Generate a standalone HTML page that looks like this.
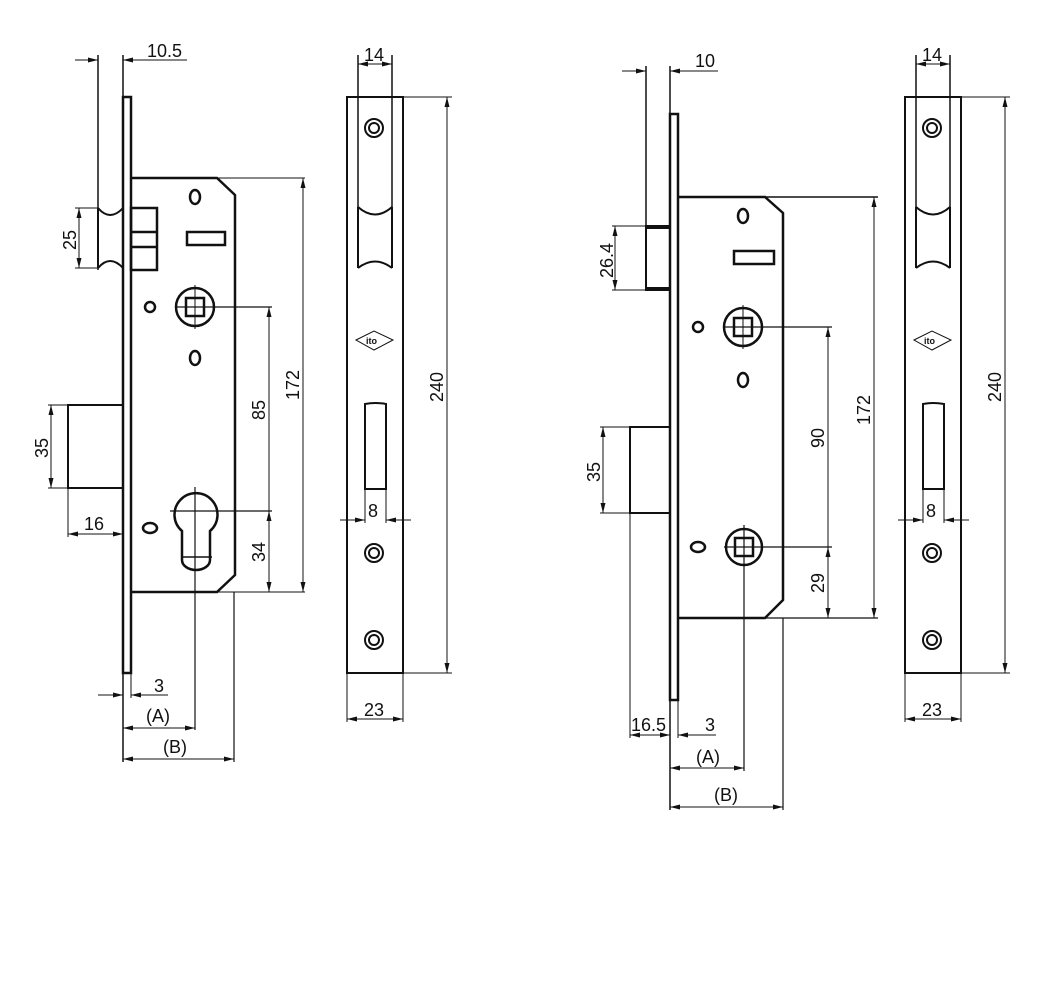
<!DOCTYPE html>
<html><head><meta charset="utf-8"><style>
html,body{margin:0;padding:0;background:#fff;}
svg{display:block;}
text{font-family:"Liberation Sans",sans-serif;font-size:18px;fill:#111;}
</style></head><body>
<svg width="1056" height="990" viewBox="0 0 1056 990" xmlns="http://www.w3.org/2000/svg">
<defs>
<marker id="a" viewBox="0 0 10 6" refX="10" refY="3" markerWidth="10" markerHeight="6" orient="auto-start-reverse" markerUnits="userSpaceOnUse"><path d="M0,0.5 L10,3 L0,5.5 Z" fill="#111"/></marker>
<g id="fp">
  <rect x="347" y="97" width="56" height="576" fill="none" stroke="#111" stroke-width="2"/>
  <line x1="358" y1="55" x2="358" y2="268" stroke="#111" stroke-width="1.5"/>
  <line x1="392" y1="55" x2="392" y2="268" stroke="#111" stroke-width="1.5"/>
  <path d="M358,207 Q375,222 392,207 M358,268 Q375,255 392,268" fill="none" stroke="#111" stroke-width="2"/>
  <line x1="358" y1="207" x2="358" y2="268" stroke="#111" stroke-width="2"/>
  <line x1="392" y1="207" x2="392" y2="268" stroke="#111" stroke-width="2"/>
  <g fill="none" stroke="#111" stroke-width="2">
    <circle cx="374" cy="128" r="9"/><circle cx="374" cy="128" r="5"/>
    <circle cx="374" cy="553" r="9"/><circle cx="374" cy="553" r="5"/>
    <circle cx="374" cy="640" r="9"/><circle cx="374" cy="640" r="5"/>
  </g>
  <path d="M356,340 L374,331 L393,340 L374,350 Z" fill="none" stroke="#111" stroke-width="1"/>
  <text x="366" y="344" style="font-size:9px;font-weight:bold">ito</text>
  <path d="M365,404 Q375,402 386,404 L386,489 L365,489 Z" fill="none" stroke="#111" stroke-width="2"/>
  <line x1="365" y1="489" x2="365" y2="523" stroke="#111" stroke-width="1"/>
  <line x1="386" y1="489" x2="386" y2="523" stroke="#111" stroke-width="1"/>
  <line x1="340" y1="520" x2="365" y2="520" stroke="#111" stroke-width="1" marker-end="url(#a)"/>
  <line x1="411" y1="520" x2="386" y2="520" stroke="#111" stroke-width="1" marker-end="url(#a)"/>
  <text x="368" y="517">8</text>
  <line x1="362" y1="64" x2="358" y2="64" stroke="#111" stroke-width="1"/>
  <line x1="358" y1="64" x2="392" y2="64" stroke="#111" stroke-width="1" marker-start="url(#a)" marker-end="url(#a)"/>
  <text x="364" y="61">14</text>
  <line x1="403" y1="97" x2="452" y2="97" stroke="#111" stroke-width="1"/>
  <line x1="403" y1="673" x2="452" y2="673" stroke="#111" stroke-width="1"/>
  <line x1="447" y1="97" x2="447" y2="673" stroke="#111" stroke-width="1" marker-start="url(#a)" marker-end="url(#a)"/>
  <text transform="translate(443,402) rotate(-90)">240</text>
  <line x1="347" y1="673" x2="347" y2="722" stroke="#111" stroke-width="1"/>
  <line x1="403" y1="673" x2="403" y2="722" stroke="#111" stroke-width="1"/>
  <line x1="347" y1="719" x2="403" y2="719" stroke="#111" stroke-width="1" marker-start="url(#a)" marker-end="url(#a)"/>
  <text x="364" y="716">23</text>
</g>
</defs>

<g stroke="#111" fill="none">
<!-- LEFT LOCK -->
<line x1="75" y1="60" x2="98" y2="60" stroke-width="1" marker-end="url(#a)"/>
<line x1="187" y1="60" x2="123" y2="60" stroke-width="1" marker-end="url(#a)"/>
<line x1="98" y1="55" x2="98" y2="270" stroke-width="1.5"/>
<line x1="123" y1="55" x2="123" y2="762" stroke-width="1.5"/>
<rect x="123" y="97" width="8" height="576" stroke-width="2.5"/>
<path d="M98,208 Q110,222 123,208 M98,268 Q110,254 123,268" stroke-width="2"/>
<line x1="98" y1="208" x2="98" y2="268" stroke-width="2"/>
<line x1="75" y1="208" x2="98" y2="208" stroke-width="1"/>
<line x1="75" y1="268" x2="98" y2="268" stroke-width="1"/>
<line x1="79" y1="208" x2="79" y2="268" stroke-width="1" marker-start="url(#a)" marker-end="url(#a)"/>
<path d="M131,178 L217,178 L235,195 L235,575 L217,592 L131,592" stroke-width="2.5"/>
<line x1="217" y1="178" x2="305" y2="178" stroke-width="1"/>
<line x1="217" y1="592" x2="305" y2="592" stroke-width="1"/>
<rect x="131" y="208" width="26" height="62" stroke-width="2.5"/>
<line x1="131" y1="232" x2="157" y2="232" stroke-width="2.5"/>
<line x1="131" y1="247" x2="157" y2="247" stroke-width="2.5"/>
<ellipse cx="195" cy="197" rx="5" ry="7" stroke-width="2.5"/>
<rect x="187" y="232" width="38" height="13" stroke-width="2.5"/>
<circle cx="195" cy="307" r="19" stroke-width="2.5"/>
<rect x="186" y="298" width="18" height="18" stroke-width="2.5"/>
<line x1="175" y1="307" x2="272" y2="307" stroke-width="1.2"/>
<line x1="195" y1="285" x2="195" y2="329" stroke-width="1"/>
<circle cx="150" cy="307" r="5" stroke-width="2.5"/>
<ellipse cx="195" cy="358" rx="5" ry="7" stroke-width="2.5"/>
<line x1="269" y1="511" x2="269" y2="307" stroke-width="1" marker-end="url(#a)"/>
<line x1="269" y1="511" x2="269" y2="592" stroke-width="1" marker-start="url(#a)" marker-end="url(#a)"/>
<line x1="303" y1="178" x2="303" y2="592" stroke-width="1" marker-start="url(#a)" marker-end="url(#a)"/>
<path d="M182,531 A21.5,21.5 0 1 1 210,531 L210,560 A14,10 0 0 1 182,560 Z" stroke-width="2.5"/>
<line x1="182" y1="557" x2="212" y2="557" stroke-width="1.5"/>
<line x1="170" y1="511" x2="272" y2="511" stroke-width="1.2"/>
<line x1="195" y1="487" x2="195" y2="730" stroke-width="1.2"/>
<ellipse cx="150" cy="528" rx="7" ry="5" stroke-width="2.5"/>
<rect x="68" y="405" width="55" height="83" stroke-width="2"/>
<line x1="48" y1="405" x2="68" y2="405" stroke-width="1"/>
<line x1="48" y1="488" x2="68" y2="488" stroke-width="1"/>
<line x1="51" y1="405" x2="51" y2="488" stroke-width="1" marker-start="url(#a)" marker-end="url(#a)"/>
<line x1="68" y1="488" x2="68" y2="537" stroke-width="1"/>
<line x1="68" y1="534" x2="123" y2="534" stroke-width="1" marker-start="url(#a)" marker-end="url(#a)"/>
<line x1="131" y1="673" x2="131" y2="698" stroke-width="1"/>
<line x1="98" y1="695" x2="123" y2="695" stroke-width="1" marker-end="url(#a)"/>
<line x1="168" y1="695" x2="131" y2="695" stroke-width="1" marker-end="url(#a)"/>
<line x1="123" y1="728" x2="195" y2="728" stroke-width="1" marker-start="url(#a)" marker-end="url(#a)"/>
<line x1="234" y1="592" x2="234" y2="762" stroke-width="1.2"/>
<line x1="123" y1="759" x2="234" y2="759" stroke-width="1" marker-start="url(#a)" marker-end="url(#a)"/>

<!-- RIGHT LOCK -->
<line x1="622" y1="71" x2="646" y2="71" stroke-width="1" marker-end="url(#a)"/>
<line x1="718" y1="71" x2="670" y2="71" stroke-width="1" marker-end="url(#a)"/>
<line x1="646" y1="66" x2="646" y2="290" stroke-width="1.5"/>
<line x1="670" y1="66" x2="670" y2="810" stroke-width="1.5"/>
<rect x="670" y="114" width="8" height="586" stroke-width="2.5"/>
<rect x="646" y="226" width="24" height="64" stroke-width="2"/>
<line x1="646" y1="228" x2="670" y2="228" stroke-width="2"/>
<line x1="646" y1="288" x2="670" y2="288" stroke-width="2"/>
<line x1="612" y1="226" x2="646" y2="226" stroke-width="1"/>
<line x1="612" y1="290" x2="646" y2="290" stroke-width="1"/>
<line x1="615" y1="226" x2="615" y2="290" stroke-width="1" marker-start="url(#a)" marker-end="url(#a)"/>
<path d="M678,197 L765,197 L783,213 L783,600 L765,618 L678,618" stroke-width="2.5"/>
<line x1="765" y1="197" x2="878" y2="197" stroke-width="1.5"/>
<line x1="765" y1="618" x2="878" y2="618" stroke-width="1.2"/>
<ellipse cx="743" cy="216" rx="5" ry="7" stroke-width="2.5"/>
<rect x="734" y="251" width="40" height="13" stroke-width="2.5"/>
<circle cx="743" cy="327" r="19" stroke-width="2.5"/>
<rect x="734" y="318" width="18" height="18" stroke-width="2.5"/>
<line x1="723" y1="327" x2="832" y2="327" stroke-width="1.2"/>
<line x1="743" y1="305" x2="743" y2="349" stroke-width="1"/>
<circle cx="698" cy="327" r="5" stroke-width="2.5"/>
<ellipse cx="743" cy="380" rx="5" ry="7" stroke-width="2.5"/>
<circle cx="744" cy="547" r="18" stroke-width="2.5"/>
<rect x="735" y="538" width="18" height="18" stroke-width="2.5"/>
<line x1="724" y1="547" x2="832" y2="547" stroke-width="1.2"/>
<line x1="744" y1="525" x2="744" y2="771" stroke-width="1.2"/>
<ellipse cx="698" cy="547" rx="7" ry="5" stroke-width="2.5"/>
<line x1="828" y1="547" x2="828" y2="327" stroke-width="1" marker-end="url(#a)"/>
<line x1="828" y1="547" x2="828" y2="618" stroke-width="1" marker-start="url(#a)" marker-end="url(#a)"/>
<line x1="874" y1="197" x2="874" y2="618" stroke-width="1" marker-start="url(#a)" marker-end="url(#a)"/>
<rect x="630" y="427" width="40" height="86" stroke-width="2"/>
<line x1="600" y1="427" x2="630" y2="427" stroke-width="1"/>
<line x1="600" y1="513" x2="630" y2="513" stroke-width="1"/>
<line x1="603" y1="427" x2="603" y2="513" stroke-width="1" marker-start="url(#a)" marker-end="url(#a)"/>
<line x1="630" y1="513" x2="630" y2="738" stroke-width="1"/>
<line x1="678" y1="700" x2="678" y2="738" stroke-width="1"/>
<line x1="630" y1="735" x2="670" y2="735" stroke-width="1" marker-start="url(#a)" marker-end="url(#a)"/>
<line x1="716" y1="735" x2="678" y2="735" stroke-width="1" marker-end="url(#a)"/>
<line x1="670" y1="768" x2="744" y2="768" stroke-width="1" marker-start="url(#a)" marker-end="url(#a)"/>
<line x1="783" y1="618" x2="783" y2="810" stroke-width="1.2"/>
<line x1="670" y1="807" x2="783" y2="807" stroke-width="1" marker-start="url(#a)" marker-end="url(#a)"/>
</g>

<use href="#fp"/>
<use href="#fp" transform="translate(558,0)"/>

<!-- texts left -->
<text x="147" y="57">10.5</text>
<text transform="translate(76,250) rotate(-90)">25</text>
<text transform="translate(48,458) rotate(-90)">35</text>
<text x="84" y="530">16</text>
<text transform="translate(265,420) rotate(-90)">85</text>
<text transform="translate(265,562) rotate(-90)">34</text>
<text transform="translate(299,400) rotate(-90)">172</text>
<text x="154" y="692">3</text>
<text x="146" y="722">(A)</text>
<text x="163" y="753">(B)</text>
<!-- texts right -->
<text x="695" y="67">10</text>
<text transform="translate(613,278) rotate(-90)">26.4</text>
<text transform="translate(600,482) rotate(-90)">35</text>
<text transform="translate(824,448) rotate(-90)">90</text>
<text transform="translate(824,593) rotate(-90)">29</text>
<text transform="translate(870,425) rotate(-90)">172</text>
<text x="631" y="731">16.5</text>
<text x="705" y="731">3</text>
<text x="696" y="763">(A)</text>
<text x="714" y="801">(B)</text>
</svg>
</body></html>
